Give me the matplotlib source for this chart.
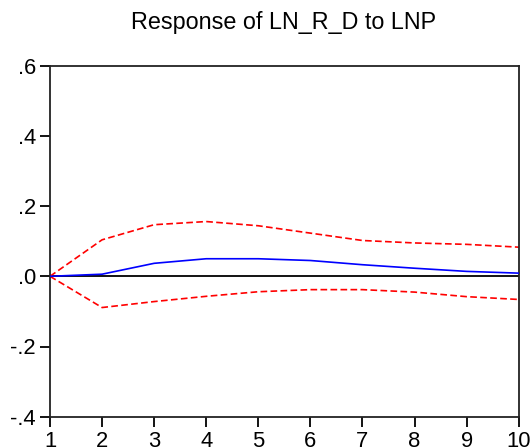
import matplotlib
matplotlib.use("Agg")
import matplotlib.pyplot as plt

periods = [1, 2, 3, 4, 5, 6, 7, 8, 9, 10]
response = [0.0, 0.006, 0.037, 0.050, 0.050, 0.045, 0.033, 0.023, 0.014, 0.009]
upper = [0.0, 0.104, 0.147, 0.156, 0.144, 0.123, 0.102, 0.095, 0.091, 0.083]
lower = [0.0, -0.089, -0.072, -0.057, -0.044, -0.038, -0.038, -0.045, -0.058, -0.066]
yticks = [-0.4, -0.2, 0.0, 0.2, 0.4, 0.6]
yticklabels = ["-.4", "-.2", ".0", ".2", ".4", ".6"]
title = "Response of LN_R_D to LNP"

plt.rcParams['font.family'] = ['Liberation Sans', 'DejaVu Sans']

W, H = 531, 448
fig = plt.figure(figsize=(W / 100, H / 100), dpi=100)
ax = fig.add_axes([50 / W, (H - 416.7) / H, (518.7 - 50) / W, (416.7 - 65.7) / H])

ax.axhline(0, color='black', lw=1.3, zorder=1)
ax.plot(periods, response, color='#0000ff', lw=1.2, zorder=3)
ax.plot(periods, upper, color='#ff0000', lw=1.2, ls=(0, (4, 2)), zorder=2)
ax.plot(periods, lower, color='#ff0000', lw=1.2, ls=(0, (4, 2)), zorder=2)

ax.set_xlim(1, 10)
ax.set_ylim(-0.4, 0.6)
ax.set_xticks(periods)
ax.set_xticklabels([str(p) for p in periods])
ax.set_yticks(yticks)
ax.set_yticklabels(yticklabels)
ax.tick_params(direction='out', length=7, width=1.3, labelsize=15.8, pad=3, colors='black')
for s in ax.spines.values():
    s.set_linewidth(1.3)
    s.set_color('#222222')

fig.text(0.5 * (131 + 436) / W, 1 - 23 / H, title, ha='center', va='center', fontsize=16.8)

fig.savefig("out.png", dpi=100)
